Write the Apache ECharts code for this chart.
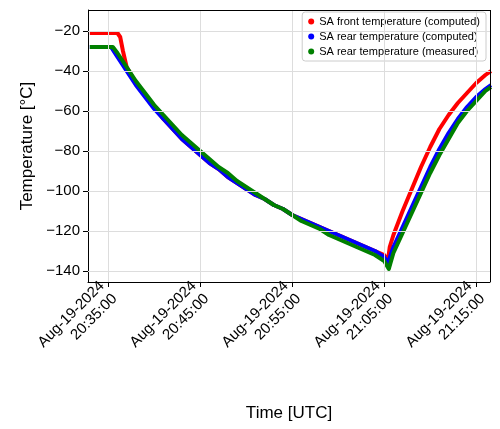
<!DOCTYPE html><html><head><meta charset="utf-8"><script src="https://cdn.jsdelivr.net/npm/echarts@6/dist/echarts.min.js"></script></head><body style="margin:0"><div id="c" style="width:500px;height:429px"></div><script>
// time in minutes after 20:00 UTC
const tFront=[33,34,35,36,36.3,36.6,37,38,39,40,41,42,43,44,45,46,47,48,49,50,51,52,53,54,55,56,57,58,59,60,61,62,63,64,65,65.4,65.6,66,67,68,69,70,71,72,73,74,75,76,76.6];
const vFront=[-21,-21,-21,-21,-23,-30,-38,-46,-52,-58,-64,-69,-74,-78,-82,-86,-89,-93,-96,-99,-102,-104,-107,-109,-112,-114,-116,-118,-120,-122,-124,-126,-128,-130,-132,-135,-128,-122,-110,-99,-88,-78,-69,-62,-56,-51,-46,-42,-40];
const tRear=[33,34,35,35.3,36,37,38,39,40,41,42,43,44,45,46,47,48,49,50,51,52,53,54,55,56,57,58,59,60,61,62,63,64,65,65.4,66,67,68,69,70,71,72,73,74,75,76,76.6];
const vRear=[-28,-28,-28,-28,-33,-40,-47,-53,-59,-64,-69,-74,-78,-82,-86,-89,-93,-96,-99,-102,-104,-107,-109,-112,-114,-116,-118,-120,-122,-124,-126,-128,-130,-133,-136,-128,-118,-108,-98,-88,-79,-71,-64,-58,-53,-49,-47];
const tMeas=[33,34,35,35.5,36,37,38,39,40,41,42,43,44,45,46,47,48,49,50,51,52,53,54,55,56,57,58,59,60,61,62,63,64,65,65.5,66,67,68,69,70,71,72,73,74,75,76,76.6];
const vMeas=[-28,-28,-28,-28,-31,-38,-45,-51,-57,-62,-67,-72,-76,-80,-84,-88,-91,-95,-98,-101,-104,-107,-109,-112,-115,-117,-119,-122,-124,-126,-128,-130,-132,-135,-139,-131,-121,-111,-101,-91,-82,-74,-66,-60,-55,-50,-48];
const xTicks=[35,45,55,65,75];
const yTicks=[-140,-120,-100,-80,-60,-40,-20];
const z=(a,b)=>a.map((t,i)=>[t,b[i]]);
const ch=echarts.init(document.getElementById('c'));
const ser=(n,c,d)=>({name:n,type:'line',data:d,smooth:false,showSymbol:false,symbol:'circle',symbolSize:5,itemStyle:{color:c},lineStyle:{color:c,width:4,join:'round'}});
ch.setOption({animation:false,
grid:{left:88,right:10,top:10,bottom:147},
legend:{top:12,right:14,orient:'vertical',itemWidth:6,itemHeight:6,itemGap:4,icon:'circle',textStyle:{fontSize:11,color:'#000'},backgroundColor:'rgba(255,255,255,0.85)',borderColor:'#ccc',borderWidth:1,borderRadius:3,padding:[4,6]},
xAxis:{type:'value',min:32.8,max:76.5,interval:10,name:'Time [UTC]',nameLocation:'middle',nameGap:123,nameTextStyle:{fontSize:17,color:'#000'},
axisLine:{lineStyle:{color:'#000'}},axisTick:{show:true,length:5,lineStyle:{color:'#000'},customValues:xTicks},
axisLabel:{customValues:xTicks,rotate:45,fontSize:15,color:'#000',lineHeight:18,formatter:v=>'Aug-19-2024\n'+(20+Math.floor(v/60))+':'+String(Math.round(v%60)).padStart(2,'0')+':00'},
splitLine:{show:false}},
yAxis:{type:'value',min:-145.5,max:-9.5,name:'Temperature [°C]',nameLocation:'middle',nameGap:52,nameTextStyle:{fontSize:17,color:'#000'},
axisLine:{show:true,lineStyle:{color:'#000'}},axisTick:{show:true,length:5,lineStyle:{color:'#000'},customValues:yTicks},
axisLabel:{customValues:yTicks,fontSize:15,color:'#000',formatter:v=>String(v).replace('-','\u2212')},splitLine:{show:false}},
series:[ser('SA front temperature (computed)','#ff0000',z(tFront,vFront)),ser('SA rear temperature (computed)','#0000ff',z(tRear,vRear)),ser('SA rear temperature (measured)','#008000',z(tMeas,vMeas)),
{type:'line',data:[],z:1,markLine:{silent:true,symbol:'none',label:{show:false},lineStyle:{color:'#ddd',type:'solid',width:1},data:[...xTicks.map(x=>({xAxis:x})),...yTicks.map(y=>({yAxis:y}))]}},
{type:'line',data:[],markLine:{silent:true,symbol:'none',label:{show:false},lineStyle:{color:'#000',type:'solid',width:1},data:[{xAxis:76.5},{yAxis:-9.5}]}}]
});
</script></body></html>
